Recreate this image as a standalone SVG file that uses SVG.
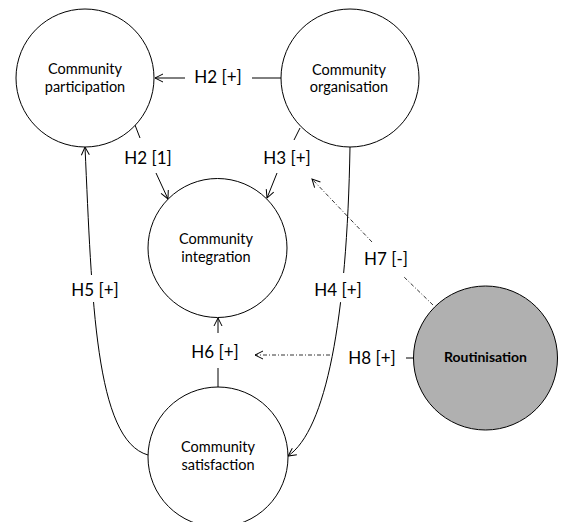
<svg xmlns="http://www.w3.org/2000/svg" width="569" height="522" viewBox="0 0 569 522">
<defs>
<style>
.node{fill:#fff;stroke:#000;stroke-width:1}
.grey{fill:#b0b0b0;stroke:#000;stroke-width:1}
.nt{font-family:Lato,"Liberation Sans",sans-serif;font-size:14.5px;fill:#000;text-anchor:middle}
.bt{font-family:Lato,"Liberation Sans",sans-serif;font-size:14px;font-weight:bold;fill:#000;text-anchor:middle}
.lb{font-family:Lato,"Liberation Sans",sans-serif;font-size:17px;fill:#000;text-anchor:middle}
.ln{fill:none;stroke:#000;stroke-width:1}
.dd{fill:none;stroke:#000;stroke-width:0.8;stroke-dasharray:4 2 1 2}
.bg{fill:#fff;stroke:none}
</style>
<marker id="arr" viewBox="-10 -6 12 12" markerWidth="12" markerHeight="12" refX="0" refY="0" orient="auto" markerUnits="userSpaceOnUse">
<path d="M-8,-4 L0,0 L-8,4" fill="none" stroke="#000" stroke-width="1" stroke-dasharray="none"/>
</marker>
</defs>
<rect width="569" height="522" fill="#fff"/>
<g id="connectors">
<!-- H2 [+] -->
<line class="ln" x1="281" y1="78" x2="252" y2="78"/>
<line class="ln" x1="185" y1="78" x2="155" y2="78" marker-end="url(#arr)"/>
<!-- H2 [1] -->
<line class="ln" x1="135" y1="125" x2="140" y2="138"/>
<line class="ln" x1="156" y1="173" x2="168" y2="199" marker-end="url(#arr)"/>
<!-- H3 [+] -->
<line class="ln" x1="300" y1="128" x2="294" y2="140"/>
<line class="ln" x1="277" y1="173" x2="267" y2="198" marker-end="url(#arr)"/>
<!-- H4 [+] -->
<path class="ln" d="M350,147 C347,320 326,430 288,456" marker-end="url(#arr)"/>
<rect class="bg" x="312" y="273" width="54" height="29"/>
<!-- H5 [+] -->
<path class="ln" d="M148,455 C95,440 92,300 85,147" marker-end="url(#arr)"/>
<rect class="bg" x="69" y="275" width="53" height="27"/>
<!-- H6 [+] -->
<line class="ln" x1="218" y1="387" x2="218" y2="368"/>
<line class="ln" x1="218" y1="333" x2="218" y2="318" marker-end="url(#arr)"/>
<!-- H7 [-] -->
<line class="dd" x1="433" y1="305" x2="403" y2="276"/>
<line class="dd" x1="372" y1="242" x2="312" y2="179" marker-end="url(#arr)"/>
<!-- H8 [+] -->
<line class="ln" x1="413" y1="358" x2="406" y2="358"/>
<line class="dd" x1="330" y1="355" x2="255" y2="355" marker-end="url(#arr)"/>
</g>
<g id="labels">
<text class="lb" x="218" y="83">H2 [+]</text>
<text class="lb" x="148" y="164">H2 [1]</text>
<text class="lb" x="287" y="164">H3 [+]</text>
<text class="lb" x="338" y="296">H4 [+]</text>
<text class="lb" x="95" y="296">H5 [+]</text>
<text class="lb" x="215" y="358">H6 [+]</text>
<text class="lb" x="386" y="265">H7 [-]</text>
<text class="lb" x="372" y="364">H8 [+]</text>
</g>
<g id="participation">
<circle class="node" cx="85" cy="78" r="69"/>
<text class="nt" x="85" y="74">Community</text>
<text class="nt" x="85" y="92">participation</text>
</g>
<g id="organisation">
<circle class="node" cx="350" cy="78" r="69"/>
<text class="nt" x="349" y="75">Community</text>
<text class="nt" x="349" y="92">organisation</text>
</g>
<g id="integration">
<circle class="node" cx="217.5" cy="248" r="69.5"/>
<text class="nt" x="216" y="244">Community</text>
<text class="nt" x="216" y="262">integration</text>
</g>
<g id="satisfaction">
<circle class="node" cx="218" cy="457" r="70"/>
<text class="nt" x="218" y="452">Community</text>
<text class="nt" x="218" y="470">satisfaction</text>
</g>
<g id="routinisation">
<circle class="grey" cx="485.5" cy="358" r="72"/>
<text class="bt" x="485.5" y="362">Routinisation</text>
</g>
</svg>
